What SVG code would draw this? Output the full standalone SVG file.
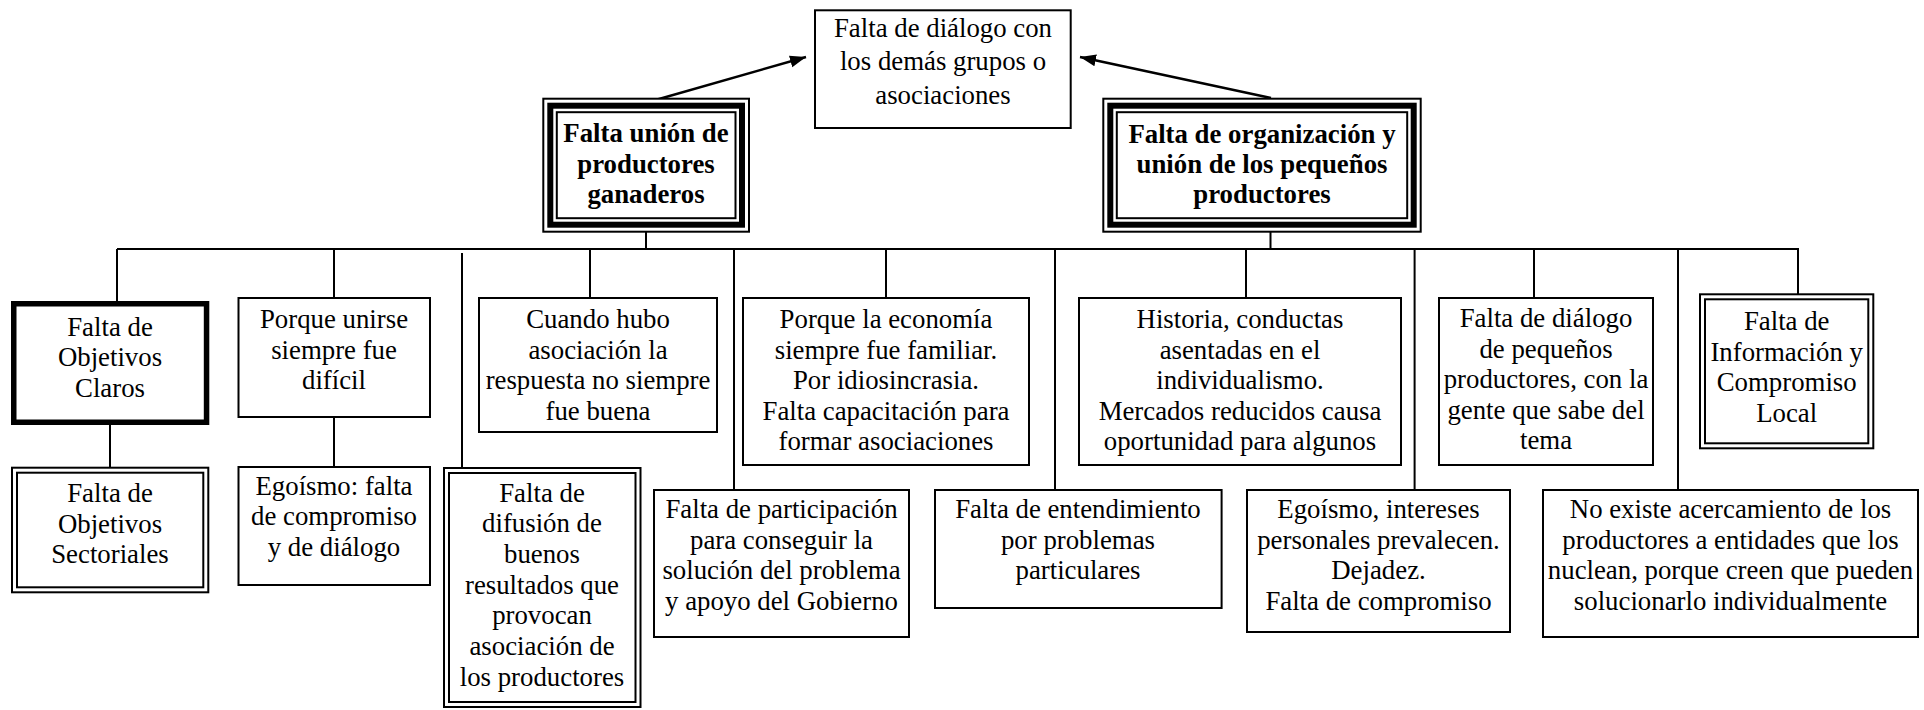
<svg xmlns="http://www.w3.org/2000/svg" width="1924" height="710" viewBox="0 0 1924 710">
<defs>
<marker id="ah" markerUnits="userSpaceOnUse" markerWidth="18" markerHeight="14" refX="16" refY="6" orient="auto">
<path d="M0,0 L16,6 L0,12 Z" fill="#000"/>
</marker>
<style>
rect{fill:#fff;stroke:#000;stroke-width:2}
.thick{stroke-width:5.5}
.mid{stroke-width:6;fill:none}
.thin{fill:none}
text{font-family:"Liberation Serif","Times New Roman",serif;font-size:26.8px;fill:#000;text-anchor:middle}
.b{font-weight:bold}
#connectors line{stroke:#000;stroke-width:2}
#connectors .arr{stroke-width:2.5}
</style>
</defs>
<rect x="0" y="0" width="1924" height="710" style="fill:#fff;stroke:none"/>
<g id="connectors">
<line x1="117" y1="249" x2="1799" y2="249"/>
<line x1="646" y1="232" x2="646" y2="249"/>
<line x1="1270.5" y1="232" x2="1270.5" y2="249"/>
<line x1="117" y1="249" x2="117" y2="301"/>
<line x1="334" y1="249" x2="334" y2="297"/>
<line x1="462" y1="253" x2="462" y2="467"/>
<line x1="590" y1="249" x2="590" y2="297"/>
<line x1="734" y1="249" x2="734" y2="489"/>
<line x1="886" y1="249" x2="886" y2="297"/>
<line x1="1055" y1="249" x2="1055" y2="489"/>
<line x1="1246" y1="249" x2="1246" y2="297"/>
<line x1="1414.6" y1="249" x2="1414.6" y2="489"/>
<line x1="1534" y1="249" x2="1534" y2="297"/>
<line x1="1678" y1="249" x2="1678" y2="489"/>
<line x1="1798" y1="248" x2="1798" y2="298"/>
<line x1="110" y1="425" x2="110" y2="467"/>
<line x1="334" y1="418" x2="334" y2="466"/>
<line class="arr" x1="652" y1="101" x2="806" y2="57" marker-end="url(#ah)"/>
<line class="arr" x1="1271" y1="98" x2="1080" y2="57" marker-end="url(#ah)"/>
</g>
<g id="top">
<rect x="815" y="10.3" width="255.7" height="117.7"/>
<text x="943" y="36.7">Falta de diálogo con</text>
<text x="943" y="70.4">los demás grupos o</text>
<text x="943" y="103.7">asociaciones</text>
</g>
<g id="main-left">
<rect x="543.3" y="98.7" width="205.7" height="133"/>
<rect class="mid" x="550.3" y="105.7" width="191.7" height="119"/>
<rect class="thin" x="556.8" y="112.2" width="178.7" height="106"/>
<text class="b" x="646" y="142">Falta unión de</text>
<text class="b" x="646" y="172.6">productores</text>
<text class="b" x="646" y="203.2">ganaderos</text>
</g>
<g id="main-right">
<rect x="1103.3" y="98.7" width="317.4" height="133"/>
<rect class="mid" x="1110.3" y="105.7" width="303.4" height="119"/>
<rect class="thin" x="1116.8" y="112.2" width="290.4" height="106"/>
<text class="b" x="1262" y="143.4">Falta de organización y</text>
<text class="b" x="1262" y="173.4">unión de los pequeños</text>
<text class="b" x="1262" y="203.4">productores</text>
</g>
<g id="n-claros">
<rect class="thick" x="13.75" y="303.75" width="192.8" height="118.5"/>
<text x="110" y="335.7">Falta de</text>
<text x="110" y="366">Objetivos</text>
<text x="110" y="396.7">Claros</text>
</g>
<g id="n-sectoriales">
<rect x="12" y="467.7" width="196.3" height="124.6"/>
<rect class="thin" x="17" y="472.7" width="186.3" height="114.6"/>
<text x="110" y="502.3">Falta de</text>
<text x="110" y="532.6">Objetivos</text>
<text x="110" y="563.3">Sectoriales</text>
</g>
<g id="n-unirse">
<rect x="238.5" y="298" width="191.5" height="119"/>
<text x="334" y="328.3">Porque unirse</text>
<text x="334" y="358.6">siempre fue</text>
<text x="334" y="389">difícil</text>
</g>
<g id="n-egoismo1">
<rect x="238.5" y="467" width="191.5" height="118"/>
<text x="334" y="495">Egoísmo: falta</text>
<text x="334" y="525.3">de compromiso</text>
<text x="334" y="555.6">y de diálogo</text>
</g>
<g id="n-cuando">
<rect x="479" y="298" width="238" height="134"/>
<text x="598" y="328.3">Cuando hubo</text>
<text x="598" y="358.6">asociación la</text>
<text x="598" y="389">respuesta no siempre</text>
<text x="598" y="419.5">fue buena</text>
</g>
<g id="n-difusion">
<rect x="444" y="468" width="196.5" height="239"/>
<rect class="thin" x="449" y="473" width="186.5" height="229"/>
<text x="542" y="501.7">Falta de</text>
<text x="542" y="532.4">difusión de</text>
<text x="542" y="563">buenos</text>
<text x="542" y="593.6">resultados que</text>
<text x="542" y="624.2">provocan</text>
<text x="542" y="654.8">asociación de</text>
<text x="542" y="685.5">los productores</text>
</g>
<g id="n-participacion">
<rect x="654" y="490" width="255" height="147"/>
<text x="781.5" y="518.3">Falta de participación</text>
<text x="781.5" y="548.8">para conseguir la</text>
<text x="781.5" y="579.4">solución del problema</text>
<text x="781.5" y="610">y apoyo del Gobierno</text>
</g>
<g id="n-economia">
<rect x="743" y="298" width="286" height="167"/>
<text x="886" y="328.3">Porque la economía</text>
<text x="886" y="358.8">siempre fue familiar.</text>
<text x="886" y="389.3">Por idiosincrasia.</text>
<text x="886" y="419.8">Falta capacitación para</text>
<text x="886" y="450.3">formar asociaciones</text>
</g>
<g id="n-entendimiento">
<rect x="935" y="490" width="286.6" height="118"/>
<text x="1078" y="518.3">Falta de entendimiento</text>
<text x="1078" y="548.8">por problemas</text>
<text x="1078" y="579.4">particulares</text>
</g>
<g id="n-historia">
<rect x="1079" y="298" width="322" height="167"/>
<text x="1240" y="328.3">Historia, conductas</text>
<text x="1240" y="358.8">asentadas en el</text>
<text x="1240" y="389.3">individualismo.</text>
<text x="1240" y="419.8">Mercados reducidos causa</text>
<text x="1240" y="450.3">oportunidad para algunos</text>
</g>
<g id="n-egoismo2">
<rect x="1247" y="490" width="263" height="142"/>
<text x="1378.5" y="518.3">Egoísmo, intereses</text>
<text x="1378.5" y="548.8">personales prevalecen.</text>
<text x="1378.5" y="579.4">Dejadez.</text>
<text x="1378.5" y="610">Falta de compromiso</text>
</g>
<g id="n-dialogo">
<rect x="1439" y="298" width="214" height="167"/>
<text x="1546" y="327">Falta de diálogo</text>
<text x="1546" y="357.5">de pequeños</text>
<text x="1546" y="388">productores, con la</text>
<text x="1546" y="418.5">gente que sabe del</text>
<text x="1546" y="449">tema</text>
</g>
<g id="n-informacion">
<rect x="1700" y="294.3" width="173.3" height="154"/>
<rect class="thin" x="1705" y="299.3" width="163.3" height="144"/>
<text x="1786.7" y="330">Falta de</text>
<text x="1786.7" y="360.7">Información y</text>
<text x="1786.7" y="391.4">Compromiso</text>
<text x="1786.7" y="422.1">Local</text>
</g>
<g id="n-acercamiento">
<rect x="1543" y="490" width="375" height="147"/>
<text x="1730.5" y="518.3">No existe acercamiento de los</text>
<text x="1730.5" y="548.8">productores a entidades que los</text>
<text x="1730.5" y="579.4">nuclean, porque creen que pueden</text>
<text x="1730.5" y="610">solucionarlo individualmente</text>
</g>
</svg>
